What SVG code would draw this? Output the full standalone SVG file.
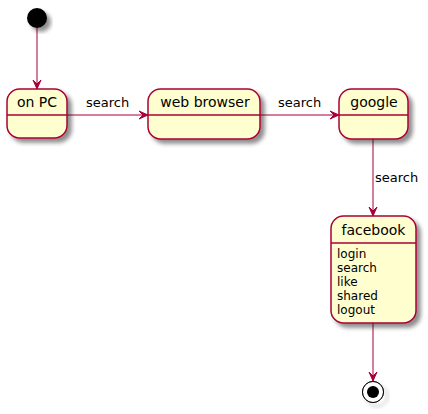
<svg xmlns="http://www.w3.org/2000/svg" width="428" height="414" viewBox="0 0 428 414">
<defs>
<filter id="sh" x="-20%" y="-20%" width="150%" height="150%">
<feGaussianBlur in="SourceAlpha" stdDeviation="2"/>
<feOffset dx="4" dy="4" result="b"/>
<feComponentTransfer><feFuncA type="linear" slope="0.45"/></feComponentTransfer>
<feMerge><feMergeNode/><feMergeNode in="SourceGraphic"/></feMerge>
</filter>
<marker id="ah" viewBox="0 0 10 10" refX="10" refY="5" markerWidth="10" markerHeight="10" markerUnits="userSpaceOnUse" orient="auto">
<path d="M1,1 L10,5 L1,9 L5,5 Z" fill="#A80036" stroke="#A80036" stroke-width="1"/>
</marker>
<style>
.st{fill:#FEFECE;stroke:#A80036;stroke-width:1.5}
.dv{stroke:#A80036;stroke-width:1.5}
.ln{stroke:#A80036;stroke-width:1;fill:none}
text{font-family:"DejaVu Sans","Liberation Sans",sans-serif;fill:#000}
.nm{font-size:14px;text-anchor:middle}
.lb{font-size:13px}
.at{font-size:12px}
</style>
</defs>
<g id="connectors">
<line class="ln" x1="37" y1="28" x2="37" y2="89" marker-end="url(#ah)"/>
<line class="ln" x1="67" y1="115" x2="148" y2="115" marker-end="url(#ah)"/>
<text class="lb" x="86" y="107">search</text>
<line class="ln" x1="260" y1="115" x2="339" y2="115" marker-end="url(#ah)"/>
<text class="lb" x="278" y="107">search</text>
<line class="ln" x1="373" y1="139" x2="373" y2="216" marker-end="url(#ah)"/>
<text class="lb" x="375" y="182">search</text>
<line class="ln" x1="373" y1="323" x2="373" y2="381" marker-end="url(#ah)"/>
</g>
<g id="start">
<circle cx="37" cy="18" r="10" fill="#000" filter="url(#sh)"/>
</g>
<g id="onPC">
<rect class="st" x="7" y="89" width="60" height="49" rx="12.5" filter="url(#sh)"/>
<line class="dv" x1="7" y1="115" x2="67" y2="115"/>
<text class="nm" x="37" y="107">on PC</text>
</g>
<g id="webBrowser">
<rect class="st" x="148" y="89" width="112" height="50" rx="12.5" filter="url(#sh)"/>
<line class="dv" x1="148" y1="115" x2="260" y2="115"/>
<text class="nm" x="205" y="107">web browser</text>
</g>
<g id="google">
<rect class="st" x="339" y="89" width="69" height="50" rx="12.5" filter="url(#sh)"/>
<line class="dv" x1="339" y1="115" x2="408" y2="115"/>
<text class="nm" x="374" y="107">google</text>
</g>
<g id="facebook">
<rect class="st" x="331" y="216" width="85" height="107" rx="12.5" filter="url(#sh)"/>
<line class="dv" x1="331" y1="243" x2="416" y2="243"/>
<text class="nm" x="373.5" y="235">facebook</text>
<text class="at" x="337" y="258">login</text>
<text class="at" x="337" y="272">search</text>
<text class="at" x="337" y="286">like</text>
<text class="at" x="337" y="300">shared</text>
<text class="at" x="337" y="314">logout</text>
</g>
<g id="end">
<circle cx="373" cy="392" r="10.5" fill="none" stroke="#000" stroke-width="1" filter="url(#sh)"/>
<circle cx="373" cy="392" r="10.5" fill="#fff" stroke="#000" stroke-width="1"/>
<circle cx="373" cy="392" r="6" fill="#000"/>
</g>
</svg>
